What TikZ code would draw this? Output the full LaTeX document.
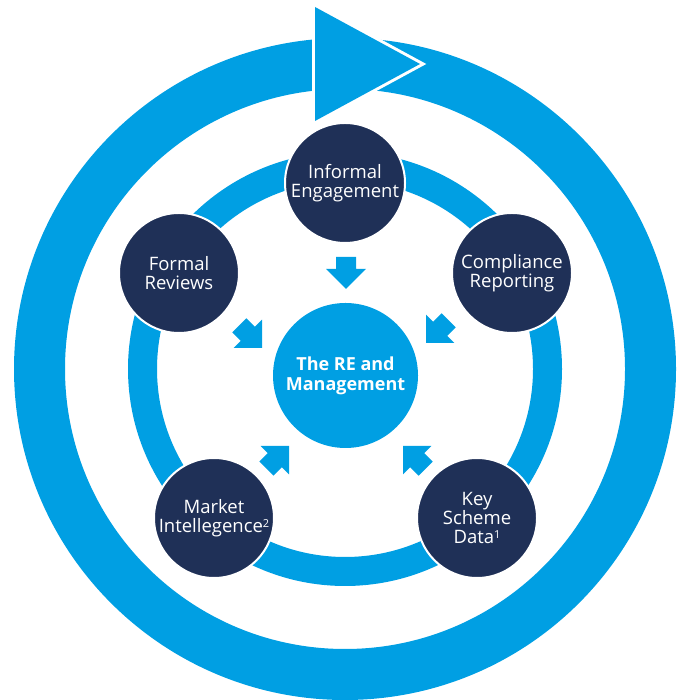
\documentclass[tikz,border=0pt]{standalone}
\usepackage{fontspec}
\setmainfont{Open Sans}
\usepackage{tikz}
\usetikzlibrary{positioning}
\pgfdeclarelayer{background}
\pgfdeclarelayer{foreground}
\pgfsetlayers{background,main,foreground}
\definecolor{cycleblue}{HTML}{009FE3}
\definecolor{stagenavy}{HTML}{1F3057}
\newcommand{\noteref}[1]{\raisebox{5pt}{\fontsize{11}{11}\selectfont #1}}

\begin{document}
\begin{tikzpicture}[x=1pt, y=1pt,
	stagenode/.style={circle, fill=stagenavy, draw=white, line width=2pt, minimum size=120pt, inner sep=0pt, text=white, align=center, font=\fontsize{18.5}{19}\selectfont},
	corenode/.style={circle, fill=cycleblue, minimum size=145pt, inner sep=0pt, text=white, align=center, font=\fontsize{18}{20}\selectfont\bfseries},
	inarrow/.style={fill=cycleblue},
	]
	\useasboundingbox (0,0) rectangle (683,700);
	%Nodes
	\node[corenode]  (core)    at (345.5,324.5) {The RE and\\Management};
	\node[stagenode] (engage)  at (345,517)     {Informal\\Engagement};
	\node[stagenode] (comply)  at (512,427)     {Compliance\\Reporting};
	\node[stagenode] (formal)  at (179,427)     {Formal\\Reviews};
	\node[stagenode] (market)  at (214,182)     {Market\\Intellegence\noteref{2}};
	\node[stagenode] (scheme)  at (477,182)     {Key\\Scheme\\Data\noteref{1}};
	
	%Arrows into the core
	\fill[inarrow, shift={(346,411)}, rotate=-90]  (0,0) -- (-20,20) -- (-20,10) -- (-32,10) -- (-32,-10) -- (-20,-10) -- (-20,-20) -- cycle;
	\fill[inarrow, shift={(262,352)}, rotate=-45]  (0,0) -- (-20,20) -- (-20,10) -- (-32,10) -- (-32,-10) -- (-20,-10) -- (-20,-20) -- cycle;
	\fill[inarrow, shift={(426,357)}, rotate=-135] (0,0) -- (-20,20) -- (-20,10) -- (-32,10) -- (-32,-10) -- (-20,-10) -- (-20,-20) -- cycle;
	\fill[inarrow, shift={(289,254)}, rotate=45]   (0,0) -- (-20,20) -- (-20,10) -- (-32,10) -- (-32,-10) -- (-20,-10) -- (-20,-20) -- cycle;
	\fill[inarrow, shift={(403,254)}, rotate=135]  (0,0) -- (-20,20) -- (-20,10) -- (-32,10) -- (-32,-10) -- (-20,-10) -- (-20,-20) -- cycle;
	
	\begin{pgfonlayer}{background}
	%Rings
	\fill[cycleblue, even odd rule] (345,331) circle (331) (345,331) circle (280);
	\fill[cycleblue, even odd rule] (345,331) circle (217) (345,331) circle (188);
	\path[fill=cycleblue, preaction={draw=white, line width=6pt}] (315,693) -- (315,579) -- (420,636) -- cycle;
	\end{pgfonlayer}
\end{tikzpicture}
\end{document}
